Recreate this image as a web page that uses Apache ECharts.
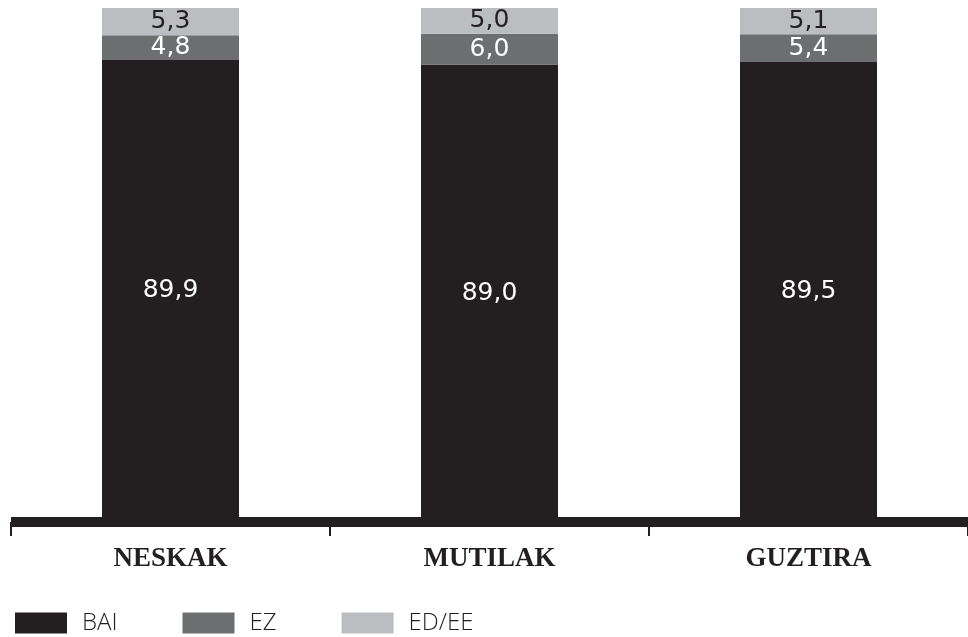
<!DOCTYPE html>
<html>
<head>
<meta charset="utf-8">
<script src="https://cdn.jsdelivr.net/npm/echarts@6/dist/echarts.min.js"></script>
<style>html,body{margin:0;padding:0;background:#fff}#c{width:968px;height:637px}</style>
</head>
<body>
<div id="c"></div>
<script>
var categories = ['NESKAK', 'MUTILAK', 'GUZTIRA'];
var bai = [89.9, 89.0, 89.5];
var ez = [4.8, 6.0, 5.4];
var eded = [5.3, 5.0, 5.1];
var seriesNames = ['BAI', 'EZ', 'ED/EE'];
var colors = ['#231f20', '#6d6e70', '#bcbdc0'];

function fmt(p) { return p.value.toFixed(1).replace('.', ','); }
function mk(name, data, color, labelColor) {
  return {
    name: name, type: 'bar', stack: 'a', data: data, barWidth: 137,
    itemStyle: { color: color },
    label: { show: true, position: 'inside', formatter: fmt, color: labelColor,
      fontFamily: 'DejaVu Sans', fontSize: 25 },
    emphasis: { disabled: true }
  };
}
var chart = echarts.init(document.getElementById('c'));
chart.setOption({
  animation: false,
  grid: { left: 11, right: -8, top: 8, bottom: 115 },
  legend: {
    left: 10, top: 606, icon: 'rect', itemWidth: 52, itemHeight: 21, itemGap: 65,
    textStyle: { fontFamily: 'Open Sans', fontWeight: 300, fontSize: 24, color: '#231f20', padding: [0, 0, 0, 10] },
    data: seriesNames
  },
  xAxis: {
    type: 'category', data: categories,
    axisLine: { lineStyle: { color: '#231f20', width: 10, cap: 'butt' } },
    axisTick: { show: true, length: 14, lineStyle: { color: '#231f20', width: 2 } },
    axisLabel: { margin: 24, fontFamily: 'Liberation Serif', fontWeight: 'bold', fontSize: 27, color: '#231f20' }
  },
  yAxis: { type: 'value', min: 0, max: 100, show: false },
  series: [
    mk(seriesNames[0], bai, colors[0], '#ffffff'),
    mk(seriesNames[1], ez, colors[1], '#ffffff'),
    mk(seriesNames[2], eded, colors[2], '#231f20')
  ]
});
</script>
</body>
</html>
